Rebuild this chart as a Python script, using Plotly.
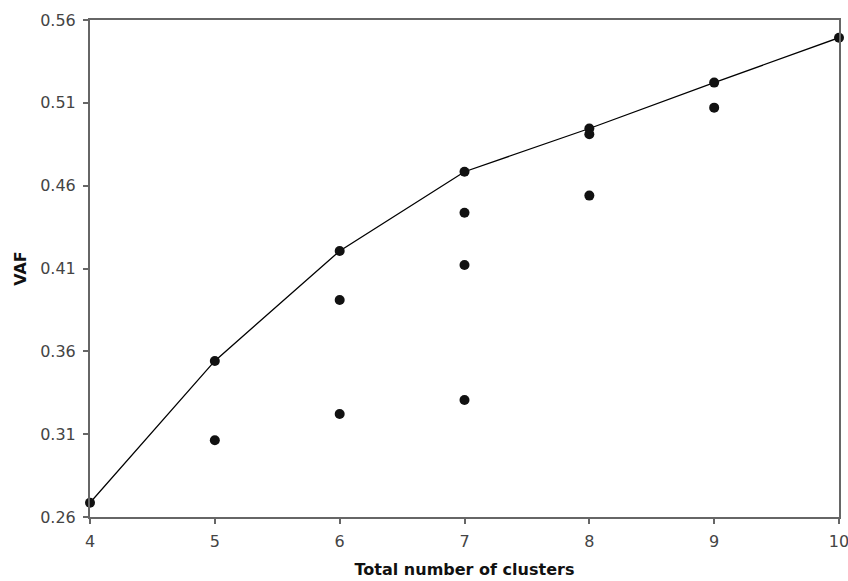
import plotly.graph_objects as go

# Best solution for each number of clusters (line)
line_x = [4, 5, 6, 7, 8, 9, 10]
line_vaf = [0.2686, 0.3542, 0.4206, 0.4684, 0.4945, 0.5222, 0.5493]

# Other solutions (points only)
pts_x = [5, 6, 6, 7, 7, 7, 8, 8, 9]
pts_vaf = [0.3063, 0.3910, 0.3222, 0.4437, 0.4121, 0.3306, 0.4910, 0.4540, 0.5071]

y_ticks = [0.26, 0.31, 0.36, 0.41, 0.46, 0.51, 0.56]
x_ticks = [4, 5, 6, 7, 8, 9, 10]

fig = go.Figure()
fig.add_trace(go.Scatter(x=line_x, y=line_vaf, mode="lines+markers",
                         line=dict(color="black", width=1.3),
                         marker=dict(color="#111111", size=10, symbol="circle"),
                         cliponaxis=False, showlegend=False))
fig.add_trace(go.Scatter(x=pts_x, y=pts_vaf, mode="markers",
                         marker=dict(color="#111111", size=10, symbol="circle"),
                         cliponaxis=False, showlegend=False))

axis_common = dict(showgrid=False, zeroline=False, showline=True, linecolor="#666666",
                   linewidth=2, mirror=True, ticks="outside", ticklen=5, tickwidth=1.5,
                   tickcolor="#666666", automargin=False, ticklabelstandoff=4,
                   ticklabeloverflow="allow",
                   tickfont=dict(family="DejaVu Sans, Verdana", size=16, color="#444444"))

fig.update_xaxes(range=[4, 10], tickvals=x_ticks, ticktext=[str(v) for v in x_ticks],
                 title=dict(text="<b>Total number of clusters</b>", standoff=14,
                            font=dict(family="DejaVu Sans, Verdana", size=16, color="#111111")),
                 **axis_common)
fig.update_yaxes(range=[0.26, 0.56], tickvals=y_ticks, ticktext=[f"{v:.2f}" for v in y_ticks],
                 title=dict(text="<b>VAF</b>", standoff=10,
                            font=dict(family="DejaVu Sans, Verdana", size=16, color="#111111")),
                 **axis_common)

fig.update_layout(width=848, height=581, margin=dict(l=90, r=9, t=20, b=64),
                  plot_bgcolor="white", paper_bgcolor="white")

fig.write_html("out.html", config={"displayModeBar": False},
               post_script="document.body.style.margin='0';document.body.style.overflow='hidden';")
